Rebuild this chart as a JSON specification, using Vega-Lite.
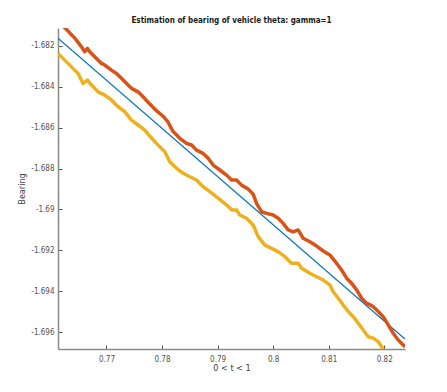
{
  "$schema": "https://vega.github.io/schema/vega-lite/v6.json",
  "autosize": "none",
  "width": 347,
  "height": 321,
  "padding": {"left": 58, "top": 28, "right": 42, "bottom": 43},
  "background": "white",
  "config": {
    "view": {"stroke": null},
    "font": "DejaVu Sans Condensed, Liberation Sans, sans-serif",
    "axis": {
      "grid": false,
      "domainColor": "#8a8a8a",
      "domainWidth": 1.5,
      "tickColor": "#555555",
      "tickSize": -4,
      "tickWidth": 1,
      "labelColor": "#505050",
      "labelFont": "DejaVu Sans Condensed, Liberation Sans, sans-serif",
      "labelFontSize": 8,
      "titleFont": "DejaVu Sans Condensed, Liberation Sans, sans-serif",
      "titleFontSize": 9,
      "titleFontWeight": "normal",
      "titleColor": "#404040"
    }
  },
  "title": {
    "text": "Estimation of bearing of vehicle theta: gamma=1",
    "font": "DejaVu Sans Condensed, Liberation Sans, sans-serif",
    "fontSize": 8,
    "fontWeight": "bold",
    "color": "#1a1a1a",
    "offset": 3,
    "anchor": "middle"
  },
  "datasets": {
    "truth": [
      {"t": 0.76128, "bearing": -1.681624},
      {"t": 0.82372, "bearing": -1.696328}
    ],
    "upper": [
      {"t": 0.76195, "bearing": -1.68099},
      {"t": 0.76267, "bearing": -1.68116},
      {"t": 0.76339, "bearing": -1.68137},
      {"t": 0.76429, "bearing": -1.68162},
      {"t": 0.7655, "bearing": -1.68205},
      {"t": 0.76609, "bearing": -1.68229},
      {"t": 0.76658, "bearing": -1.68213},
      {"t": 0.76699, "bearing": -1.68229},
      {"t": 0.76789, "bearing": -1.68254},
      {"t": 0.7691, "bearing": -1.68286},
      {"t": 0.76969, "bearing": -1.68294},
      {"t": 0.7709, "bearing": -1.68319},
      {"t": 0.7718, "bearing": -1.68335},
      {"t": 0.7727, "bearing": -1.68359},
      {"t": 0.7733, "bearing": -1.68376},
      {"t": 0.7745, "bearing": -1.68408},
      {"t": 0.77569, "bearing": -1.68425},
      {"t": 0.77659, "bearing": -1.68449},
      {"t": 0.7778, "bearing": -1.68485},
      {"t": 0.77888, "bearing": -1.68514},
      {"t": 0.78014, "bearing": -1.68543},
      {"t": 0.78104, "bearing": -1.68571},
      {"t": 0.78194, "bearing": -1.68617},
      {"t": 0.7832, "bearing": -1.68652},
      {"t": 0.78441, "bearing": -1.68677},
      {"t": 0.78531, "bearing": -1.68685},
      {"t": 0.78621, "bearing": -1.6871},
      {"t": 0.7874, "bearing": -1.68726},
      {"t": 0.7883, "bearing": -1.6875},
      {"t": 0.7892, "bearing": -1.68783},
      {"t": 0.7904, "bearing": -1.68807},
      {"t": 0.79161, "bearing": -1.68832},
      {"t": 0.79251, "bearing": -1.68856},
      {"t": 0.79341, "bearing": -1.68856},
      {"t": 0.79431, "bearing": -1.68881},
      {"t": 0.7955, "bearing": -1.689},
      {"t": 0.7964, "bearing": -1.68925},
      {"t": 0.79701, "bearing": -1.6897},
      {"t": 0.79791, "bearing": -1.69011},
      {"t": 0.79881, "bearing": -1.69019},
      {"t": 0.8, "bearing": -1.69027},
      {"t": 0.8009, "bearing": -1.69043},
      {"t": 0.8018, "bearing": -1.69068},
      {"t": 0.8027, "bearing": -1.691},
      {"t": 0.8036, "bearing": -1.69109},
      {"t": 0.8045, "bearing": -1.691},
      {"t": 0.8054, "bearing": -1.69141},
      {"t": 0.80661, "bearing": -1.69158},
      {"t": 0.80782, "bearing": -1.69179},
      {"t": 0.80901, "bearing": -1.69203},
      {"t": 0.81021, "bearing": -1.69222},
      {"t": 0.81111, "bearing": -1.69252},
      {"t": 0.81232, "bearing": -1.69296},
      {"t": 0.81322, "bearing": -1.69336},
      {"t": 0.81412, "bearing": -1.69361},
      {"t": 0.81502, "bearing": -1.69393},
      {"t": 0.81592, "bearing": -1.69434},
      {"t": 0.81682, "bearing": -1.69458},
      {"t": 0.81801, "bearing": -1.69475},
      {"t": 0.81891, "bearing": -1.69499},
      {"t": 0.81981, "bearing": -1.69524},
      {"t": 0.82071, "bearing": -1.69564},
      {"t": 0.82161, "bearing": -1.69605},
      {"t": 0.82251, "bearing": -1.69638},
      {"t": 0.82341, "bearing": -1.69662},
      {"t": 0.82372, "bearing": -1.69672}
    ],
    "lower": [
      {"t": 0.76128, "bearing": -1.68237},
      {"t": 0.76249, "bearing": -1.6827},
      {"t": 0.7637, "bearing": -1.68303},
      {"t": 0.76489, "bearing": -1.68335},
      {"t": 0.76579, "bearing": -1.68384},
      {"t": 0.76658, "bearing": -1.68368},
      {"t": 0.7673, "bearing": -1.68392},
      {"t": 0.76849, "bearing": -1.68425},
      {"t": 0.76969, "bearing": -1.68441},
      {"t": 0.7709, "bearing": -1.68465},
      {"t": 0.77209, "bearing": -1.68498},
      {"t": 0.7733, "bearing": -1.68522},
      {"t": 0.7745, "bearing": -1.68563},
      {"t": 0.77569, "bearing": -1.68587},
      {"t": 0.7769, "bearing": -1.68612},
      {"t": 0.7778, "bearing": -1.68641},
      {"t": 0.779, "bearing": -1.68677},
      {"t": 0.7805, "bearing": -1.68718},
      {"t": 0.7814, "bearing": -1.68767},
      {"t": 0.78261, "bearing": -1.68799},
      {"t": 0.78379, "bearing": -1.68823},
      {"t": 0.785, "bearing": -1.6884},
      {"t": 0.78621, "bearing": -1.68856},
      {"t": 0.7874, "bearing": -1.68889},
      {"t": 0.7886, "bearing": -1.68913},
      {"t": 0.78981, "bearing": -1.68938},
      {"t": 0.79076, "bearing": -1.68959},
      {"t": 0.79184, "bearing": -1.68983},
      {"t": 0.79256, "bearing": -1.69003},
      {"t": 0.79341, "bearing": -1.69003},
      {"t": 0.794, "bearing": -1.69027},
      {"t": 0.79521, "bearing": -1.69043},
      {"t": 0.7964, "bearing": -1.69076},
      {"t": 0.7973, "bearing": -1.69133},
      {"t": 0.79851, "bearing": -1.69174},
      {"t": 0.79971, "bearing": -1.6919},
      {"t": 0.8009, "bearing": -1.69206},
      {"t": 0.80211, "bearing": -1.69231},
      {"t": 0.80331, "bearing": -1.69263},
      {"t": 0.8045, "bearing": -1.69263},
      {"t": 0.80512, "bearing": -1.69287},
      {"t": 0.80661, "bearing": -1.69312},
      {"t": 0.80782, "bearing": -1.69329},
      {"t": 0.80901, "bearing": -1.69345},
      {"t": 0.81021, "bearing": -1.69369},
      {"t": 0.81081, "bearing": -1.69402},
      {"t": 0.81171, "bearing": -1.69434},
      {"t": 0.81261, "bearing": -1.69467},
      {"t": 0.81351, "bearing": -1.69499},
      {"t": 0.81441, "bearing": -1.69524},
      {"t": 0.81531, "bearing": -1.69556},
      {"t": 0.81621, "bearing": -1.69589},
      {"t": 0.81711, "bearing": -1.69622},
      {"t": 0.81801, "bearing": -1.69629},
      {"t": 0.81891, "bearing": -1.69646},
      {"t": 0.81952, "bearing": -1.6967},
      {"t": 0.81981, "bearing": -1.69687},
      {"t": 0.8203, "bearing": -1.69706}
    ]
  },
  "layer": [
    {
      "data": {"name": "truth"},
      "mark": {"type": "line", "color": "#0072BD", "strokeWidth": 1.2, "clip": true},
      "encoding": {
        "x": {
          "field": "t", "type": "quantitative",
          "scale": {"domain": [0.76128, 0.82373], "nice": false, "zero": false},
          "axis": {"title": "0 < t < 1", "values": [0.77, 0.78, 0.79, 0.8, 0.81, 0.82], "labelExpr": "format(datum.value, '.2~f')", "labelPadding": 10, "titlePadding": 0}
        },
        "y": {
          "field": "bearing", "type": "quantitative",
          "scale": {"domain": [-1.69682, -1.68113], "nice": false, "zero": false},
          "axis": {"title": "Bearing", "values": [-1.682, -1.684, -1.686, -1.688, -1.69, -1.692, -1.694, -1.696], "labelExpr": "replace(format(datum.value, '.4~f'), '−', '-')", "labelPadding": 8, "titlePadding": 4}
        }
      }
    },
    {
      "data": {"name": "upper"},
      "mark": {"type": "line", "color": "#D95319", "strokeWidth": 3.5, "clip": true, "strokeJoin": "round"},
      "encoding": {
        "x": {"field": "t", "type": "quantitative"},
        "y": {"field": "bearing", "type": "quantitative"}
      }
    },
    {
      "data": {"name": "lower"},
      "mark": {"type": "line", "color": "#EDB120", "strokeWidth": 3.5, "clip": true, "strokeJoin": "round"},
      "encoding": {
        "x": {"field": "t", "type": "quantitative"},
        "y": {"field": "bearing", "type": "quantitative"}
      }
    }
  ]
}
